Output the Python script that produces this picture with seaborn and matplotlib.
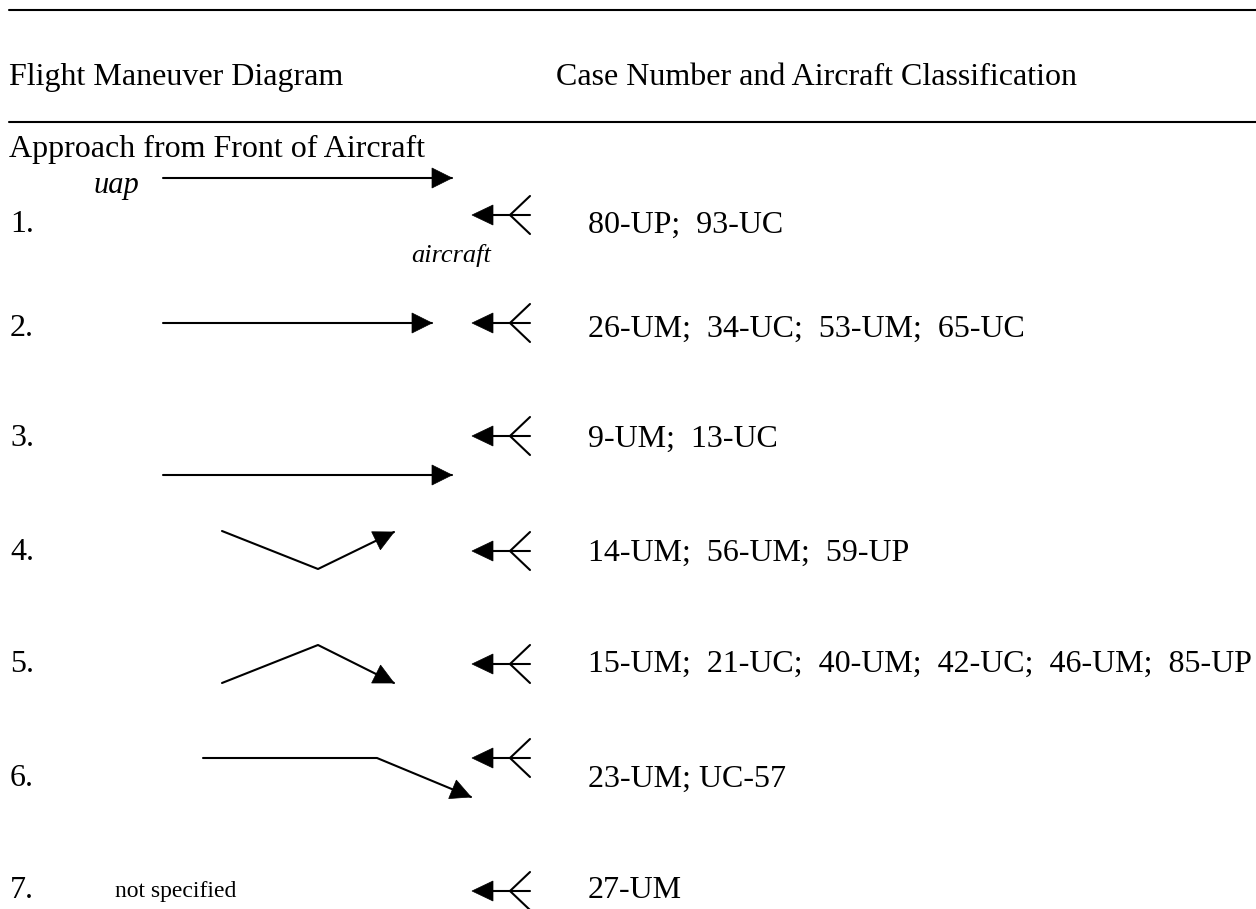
import numpy as np
import pandas as pd
import matplotlib
matplotlib.use('Agg')
import matplotlib.pyplot as plt
from matplotlib.patches import Polygon
import seaborn as sns

# Table content
row_labels = ['1.', '2.', '3.', '4.', '5.', '6.', '7.']
case_lists = [
    '80-UP;  93-UC',
    '26-UM;  34-UC;  53-UM;  65-UC',
    '9-UM;  13-UC',
    '14-UM;  56-UM;  59-UP',
    '15-UM;  21-UC;  40-UM;  42-UC;  46-UM;  85-UP',
    '23-UM; UC-57',
    '27-UM',
]
text_y = [222, 326, 436, 550, 661, 776, 887]
aircraft_y = [215, 323, 436, 551, 664, 758, 891]

# Maneuver paths (x, y) for rows 1-6; row 7 is not specified
path_x = [[163, 452], [163, 432], [163, 452], [222, 318, 394], [222, 318, 394], [203, 377, 471]]
path_y = [[178, 178], [323, 323], [475, 475], [531, 569, 532], [683, 645, 683], [758, 758, 797]]

W, H = 1256, 909
sns.set_theme(style='white')
plt.rcParams['font.family'] = ['Liberation Serif', 'DejaVu Serif']
plt.rcParams['text.color'] = 'black'

fig = plt.figure(figsize=(W / 100, H / 100), dpi=100)
ax = fig.add_axes([0, 0, 1, 1])

LW = 1.5
FS = 23


def head(tip, prev, length=20, half=10):
    tip = np.array(tip, float)
    d = tip - np.array(prev, float)
    d /= np.hypot(*d)
    n = np.array([-d[1], d[0]])
    base = tip - length * d
    return Polygon([tip, base + half * n, base - half * n], closed=True,
                   facecolor='black', edgecolor='black', lw=0.5, zorder=3)


# maneuver paths
rows = []
for i, (xs, ys) in enumerate(zip(path_x, path_y)):
    for x, y in zip(xs, ys):
        rows.append({'row': i, 'x': x, 'y': y})
df = pd.DataFrame(rows)
sns.lineplot(data=df, x='x', y='y', units='row', estimator=None, sort=False,
             color='black', lw=LW, ax=ax, legend=False)
for xs, ys in zip(path_x, path_y):
    ax.add_patch(head((xs[-1], ys[-1]), (xs[-2], ys[-2])))
ax.set_xlim(0, W)
ax.set_ylim(H, 0)
ax.axis('off')

# header rules and titles
for yy in [10, 122]:
    ax.plot([9, W], [yy, yy], color='black', lw=LW)
ax.text(9, 85, 'Flight Maneuver Diagram', fontsize=FS, va='baseline')
ax.text(556, 85, 'Case Number and Aircraft Classification', fontsize=FS, va='baseline')
ax.text(9, 157, 'Approach from Front of Aircraft', fontsize=FS, va='baseline')

ax.text(93, 193, 'uap', fontsize=22, style='italic', va='baseline')
ax.text(411, 262, 'aircraft', fontsize=19, style='italic', va='baseline')

# aircraft symbols, labels and case lists
for lab, cases, ty, ay in zip(row_labels, case_lists, text_y, aircraft_y):
    ax.text(10, ty + 10.5, lab, fontsize=FS, va='baseline')
    ax.text(588, ty + 10.5, cases, fontsize=FS, va='baseline')
    ax.add_patch(head((472, ay), (530, ay), length=21, half=10))
    ax.plot([490, 530], [ay, ay], color='black', lw=LW)
    ax.plot([530, 510, 530], [ay - 19, ay, ay + 19], color='black', lw=LW)

ax.text(115, 897, 'not specified', fontsize=17, va='baseline')

fig.savefig('out.png', dpi=100)
